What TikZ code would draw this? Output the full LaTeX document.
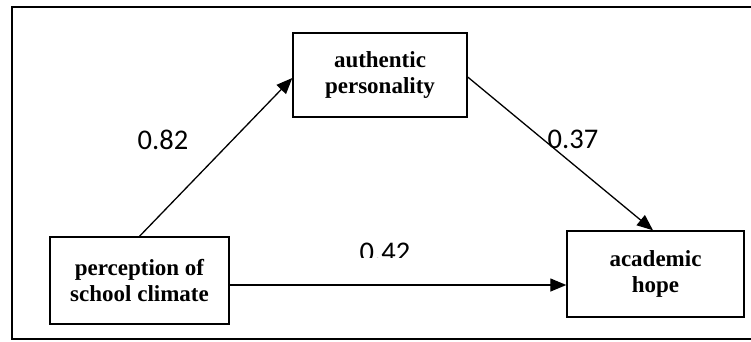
\documentclass[tikz,border=0pt]{standalone}
\usepackage{fontspec}
\setmainfont{Liberation Serif}
\newfontfamily\numfont{Carlito}
\usetikzlibrary{arrows.meta}
\tikzset{
  varbox/.style={draw, line width=1.4pt, inner sep=0pt, align=center,
    font=\fontsize{23}{26}\selectfont\bfseries},
  patharrow/.style={line width=1.3pt, -{Triangle[length=16pt,width=13pt]}},
  coef/.style={font=\fontsize{28.5}{30}\selectfont\numfont, inner sep=0pt},
  frameline/.style={line width=2pt}
}
\begin{document}
\begin{tikzpicture}[x=1pt,y=-1pt]
\useasboundingbox (0,0) rectangle (751,341);
% outer frame (right side not shown)
\coordinate (f1) at (751,7);
\coordinate (f2) at (12,7);
\coordinate (f3) at (12,339);
\coordinate (f4) at (751,339);
\draw[frameline] (f1) -- (f2) -- (f3) -- (f4);
% boxes
\node[varbox, minimum width=179pt, minimum height=87pt] (pc) at (139.5,280.5) {perception of\\school climate};
\node[varbox, minimum width=174pt, minimum height=84pt] (ap) at (380,75) {authentic\\personality};
\node[varbox, minimum width=177pt, minimum height=86pt] (ah) at (655.5,274) {academic\\hope};
% paths
\draw[patharrow] (pc.north) -- ([yshift=-3pt]ap.west);
\draw[patharrow] ([yshift=-2pt]ap.east) -- ([xshift=-2.5pt]ah.north);
\draw[patharrow] ([yshift=-4.5pt]pc.east) -- ([yshift=-11pt]ah.west);
% coefficients
\node[coef] (c1) at (163,140) {0.82};
\node[coef] (c2) at (573,139) {0.37};
\begin{scope}
\clip (300,220) rectangle (480,257.5);
\node[coef] (c3) at (385,252.5) {0.42};
\end{scope}
\end{tikzpicture}
\end{document}
